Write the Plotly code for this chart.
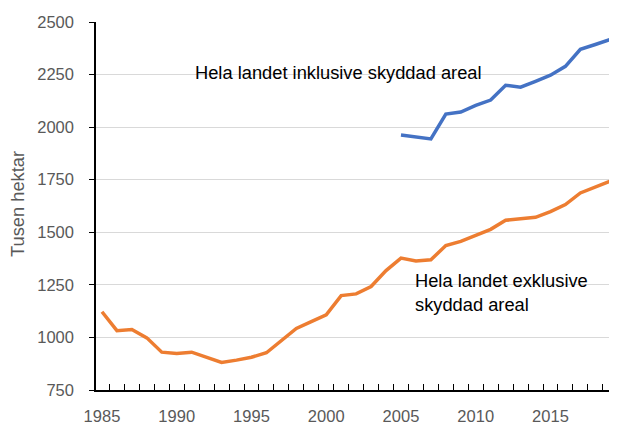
import plotly.graph_objects as go

years_excl = list(range(1985, 2020))
excl_values = [1122, 1032, 1038, 998, 930, 924, 930, 906, 881, 892, 906, 927, 983, 1043, 1075, 1108,
               1199, 1207, 1242, 1318, 1377, 1363, 1369, 1437, 1457, 1485, 1514, 1557, 1562, 1571,
               1598, 1632, 1687, 1713, 1743]

years_incl = list(range(2005, 2020))
incl_values = [1963, 1952, 1944, 2062, 2072, 2103, 2129, 2199, 2190, 2218, 2247, 2289, 2370, 2393, 2417]

x_tick_labels = [1985, 1990, 1995, 2000, 2005, 2010, 2015]
y_tick_values = [750, 1000, 1250, 1500, 1750, 2000, 2250, 2500]

label_incl = "Hela landet inklusive skyddad areal"
label_excl = "Hela landet exklusive<br>skyddad areal"
y_title = "Tusen hektar"

FONT = "Liberation Sans, Arial, sans-serif"
GRAY = "#595959"

fig = go.Figure()
fig.add_trace(go.Scatter(x=years_excl, y=excl_values, mode="lines",
                         line=dict(color="#ED7D31", width=3.5), showlegend=False))
fig.add_trace(go.Scatter(x=years_incl, y=incl_values, mode="lines",
                         line=dict(color="#4472C4", width=3.5), showlegend=False))

fig.add_annotation(x=1991.1, y=2262, xref="x", yref="y", text=label_incl, showarrow=False,
                   xanchor="left", yanchor="middle", font=dict(family=FONT, size=18.3, color="black"))
fig.add_annotation(x=2005.8, y=1212, xref="x", yref="y", text=label_excl, showarrow=False,
                   xanchor="left", yanchor="middle", align="left",
                   font=dict(family=FONT, size=18.3, color="black"))
fig.add_annotation(x=-79 / 521, y=(390 - 204) / 368, xref="paper", yref="paper", text=y_title,
                   showarrow=False, textangle=-90, xanchor="center", yanchor="middle",
                   font=dict(family=FONT, size=18.3, color=GRAY))

# page body adds an 8px margin, so the figure is 8px smaller and left/top margins shifted
fig.update_layout(
    width=609, height=417,
    margin=dict(l=88, r=0, t=14, b=35),
    paper_bgcolor="white", plot_bgcolor="white",
    font=dict(family=FONT, size=16.5, color=GRAY),
    xaxis=dict(
        range=[1984.6, 2019.45], automargin=False,
        tickvals=x_tick_labels, ticktext=[str(v) for v in x_tick_labels],
        ticks="", showgrid=False, zeroline=False,
        showline=True, linecolor="black", linewidth=1.5,
        tickfont=dict(family=FONT, size=16.5, color=GRAY),
        ticklabelstandoff=10,
        minor=dict(tickvals=[y + 0.5 for y in range(1984, 2020)], ticks="inside",
                   ticklen=6, tickcolor="black", tickwidth=1, showgrid=False),
    ),
    yaxis=dict(
        range=[750, 2500], automargin=False,
        tickvals=y_tick_values,
        ticks="outside", ticklen=5, tickcolor="black", tickwidth=1,
        showgrid=True, gridcolor="#D9D9D9", gridwidth=1, zeroline=False,
        showline=True, linecolor="black", linewidth=1.5,
        tickfont=dict(family=FONT, size=16.5, color=GRAY),
        ticklabelstandoff=12,
    ),
)

fig.write_html("out.html")
